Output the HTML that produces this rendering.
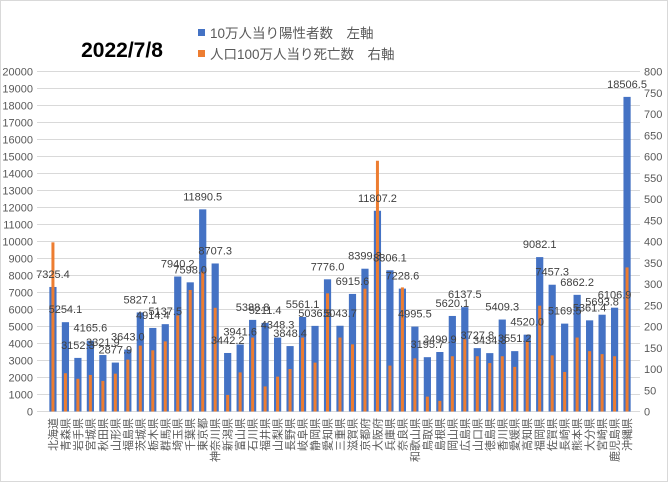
<!DOCTYPE html>
<html><head><meta charset="utf-8"><style>
body{margin:0;background:#fff}
svg{display:block;font-family:"Liberation Sans","Noto Sans CJK JP",sans-serif}
</style></head><body>
<svg id="chart" width="668" height="482" viewBox="0 0 668 482">
<rect x="0.5" y="0.5" width="667" height="481" fill="#fff" stroke="#d9d9d9"/>
<text x="122" y="57" font-size="21" font-weight="bold" text-anchor="middle" fill="#000">2022/7/8</text>
<rect x="198" y="29" width="7" height="7" fill="#4472c4"/>
<text x="210" y="38" font-size="13.5" fill="#595959">10万人当り陽性者数　左軸</text>
<rect x="198" y="50" width="7" height="7" fill="#ed7d31"/>
<text x="210" y="59" font-size="13.5" fill="#595959">人口100万人当り死亡数　右軸</text>
<g id="grid"></g><g id="bars"></g><g id="labels"></g>
</svg>
<script>
const categories=["北海道","青森県","岩手県","宮城県","秋田県","山形県","福島県","茨城県","栃木県","群馬県","埼玉県","千葉県","東京都","神奈川県","新潟県","富山県","石川県","福井県","山梨県","長野県","岐阜県","静岡県","愛知県","三重県","滋賀県","京都府","大阪府","兵庫県","奈良県","和歌山県","鳥取県","島根県","岡山県","広島県","山口県","徳島県","香川県","愛媛県","高知県","福岡県","佐賀県","長崎県","熊本県","大分県","宮崎県","鹿児島県","沖縄県"];
const cases=[7325.4,5254.1,3152.3,4165.6,3321.9,2877.9,3643.0,5827.1,4914.4,5137.5,7940.2,7598.0,11890.5,8707.3,3442.2,3941.6,5388.8,5211.4,4348.3,3848.4,5561.1,5036.5,7776.0,5043.7,6915.6,8399.3,11807.2,8306.1,7228.6,4995.5,3195.7,3499.9,5620.1,6137.5,3727.8,3434.3,5409.3,3551.2,4520.0,9082.1,7457.3,5169.5,6862.2,5361.4,5693.8,6106.9,18506.5];
const deaths=[398,90,77,86,72,89,122,155,144,165,226,286,329,244,39,92,174,59,82,100,174,115,278,174,158,289,590,108,292,125,35,25,130,170,130,114,130,105,165,249,132,93,174,142,135,130,339];
const leftTicks=[0,1000,2000,3000,4000,5000,6000,7000,8000,9000,10000,11000,12000,13000,14000,15000,16000,17000,18000,19000,20000];
const rightTicks=[0,50,100,150,200,250,300,350,400,450,500,550,600,650,700,750,800];
const NS="http://www.w3.org/2000/svg";
const y0=411.5,yTop=71.5,x0=46.7,x1=633.3;
const yL=v=>y0-(v/20000)*(y0-yTop);
const yR=v=>y0-(v/800)*(y0-yTop);
const bw=(x1-x0)/categories.length;
const xC=i=>x0+bw*(i+0.5);
function mk(t,a,p){const e=document.createElementNS(NS,t);for(const k in a)e.setAttribute(k,a[k]);p.appendChild(e);return e;}
const grid=document.getElementById('grid'),bars=document.getElementById('bars'),labels=document.getElementById('labels');
leftTicks.forEach(v=>{
  const l=mk('line',{x1:37,x2:640,y1:yL(v),y2:yL(v),stroke:'#d9d9d9','stroke-width':1},grid);
  
  
  const t=mk('text',{x:33,y:yL(v)+4,'font-size':11,'text-anchor':'end',fill:'#595959'},grid);
  t.textContent=v;
  
  
});
rightTicks.forEach(v=>{
  const t=mk('text',{x:644,y:yR(v)+4,'font-size':11,fill:'#595959'},grid);
  t.textContent=v;
  
  
});
categories.forEach((c,i)=>{
  const cx=xC(i);
  const b=mk('rect',{x:cx-3.6,y:yL(cases[i]),width:7.2,height:y0-yL(cases[i]),fill:'#4472c4'},bars);
  
  
  const o=mk('rect',{x:cx-1.5,y:yR(deaths[i]),width:3,height:y0-yR(deaths[i]),fill:'#ed7d31'},bars);
  
  
  const t=mk('text',{x:cx,y:yL(cases[i])-9,'font-size':11,'text-anchor':'middle',fill:'#404040'},labels);
  t.textContent=cases[i].toFixed(1);
  
  
  const n=mk('text',{x:0,y:0,'font-size':11,'text-anchor':'end',fill:'#595959',transform:`translate(${cx+4},418) rotate(-90)`},labels);
  n.textContent=c;
  
  
});
</script>
</body></html>
